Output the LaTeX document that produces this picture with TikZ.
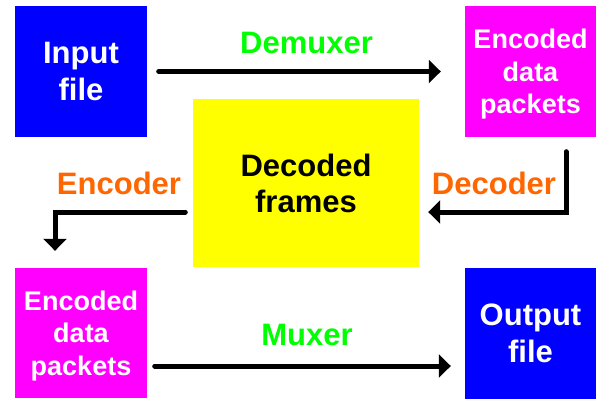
\documentclass[tikz,border=0pt]{standalone}
\usepackage{fontspec}
\setmainfont{Liberation Sans}
\usetikzlibrary{arrows.meta}
\definecolor{boxblue}{RGB}{0,0,255}
\definecolor{boxmag}{RGB}{255,0,255}
\definecolor{boxyel}{RGB}{255,255,0}
\definecolor{lblgreen}{RGB}{0,255,0}
\definecolor{lblorange}{RGB}{255,102,0}
\tikzset{box/.style={draw=none,inner sep=0pt,align=center,text depth=0pt,
    font=\bfseries\fontsize{31}{37}\selectfont},
  lbl/.style={anchor=base,inner sep=0pt,font=\bfseries\fontsize{31}{37}\selectfont},
  arr/.style={line width=5pt,line cap=round,-{Triangle[length=12pt,width=23pt]}}}

\begin{document}
\begin{tikzpicture}[x=1pt,y=-1pt]
\useasboundingbox (0,0) rectangle (603,408);
      \node[box,fill=boxblue,text=white,minimum width=132pt,minimum height=131pt] (in) at (81,71.5) {Input\\file};
      \node[box,fill=boxmag,text=white,minimum width=131pt,minimum height=131pt,
        font=\bfseries\fontsize{27}{32.5}\selectfont] (encA) at (530.5,71.5) {Encoded\\data\\packets};
      \node[box,fill=boxyel,text=black,minimum width=226pt,minimum height=168pt,
        font=\bfseries\fontsize{31}{36}\selectfont] (frames) at (306,183) {Decoded\\frames};
      \node[box,fill=boxmag,text=white,minimum width=132pt,minimum height=130pt,
        font=\bfseries\fontsize{27}{32.5}\selectfont] (encB) at (81,333) {Encoded\\data\\packets};
      \node[box,fill=boxblue,text=white,minimum width=131pt,minimum height=131pt] (out) at (530.5,333) {Output\\file};

      \node[lbl,text=lblgreen] (demux) at (306.5,53) {Demuxer};
      \node[lbl,text=lblorange] (decod) at (494,194) {Decoder};
      \node[lbl,text=lblorange] (encod) at (119,194) {Encoder};
      \node[lbl,text=lblgreen] (mux) at (307,345) {Muxer};

  \draw[arr,shorten <=11.5pt,shorten >=24pt] (in) -- (encA);
  \draw[arr,shorten <=14.5pt,shorten >=9pt] ([xshift=35.5pt]encA.south) |- ([yshift=-29pt]frames.east);
  \draw[arr,shorten <=7.5pt,shorten >=17pt] ([yshift=-29pt]frames.west) -| ([xshift=-26pt]encB.north);
  \draw[arr,shorten <=7.5pt,shorten >=14pt] ([yshift=-33pt]encB.east) -- ([yshift=-33pt]out.west);
    \end{tikzpicture}
\end{document}
